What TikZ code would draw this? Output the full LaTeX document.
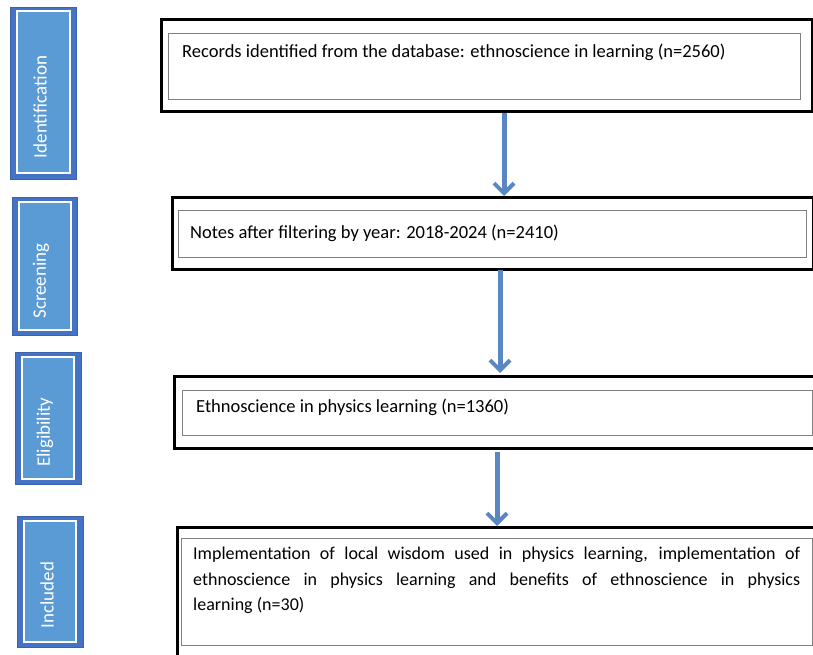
\documentclass[tikz,border=0pt]{standalone}
\usepackage{fontspec}
\setmainfont{Carlito}
\usetikzlibrary{arrows.meta}
\definecolor{sidedark}{HTML}{4472C4}
\definecolor{sideedge}{HTML}{3B64AD}
\definecolor{sidelight}{HTML}{5B9BD5}
\definecolor{arrowblue}{HTML}{5A86C2}
\definecolor{innergray}{HTML}{808080}
\tikzset{
  sideouter/.style={draw=sideedge, fill=sidedark, line width=1pt, inner sep=0pt},
  sideinner/.style={draw=white, fill=sidelight, line width=2pt, inner sep=0pt},
  sidetext/.style={inner sep=0pt, text=white, font=\fontsize{19}{21}\selectfont, rotate=90},
  outerbox/.style={draw=black, line width=3pt, inner sep=0pt},
  innerbox/.style={draw=innergray, line width=1pt, inner sep=0pt},
  boxtext/.style={anchor=west, inner sep=0pt, font=\fontsize{18.5}{22}\selectfont},
  flowarrow/.style={draw=arrowblue, line width=5pt, -{Straight Barb[length=10pt,width=20pt,line width=4pt]}}
}
\begin{document}
\begin{tikzpicture}[x=1pt,y=-1pt]
\useasboundingbox (0,0) rectangle (813,655);
% side labels
\node[sideouter, minimum width=66pt, minimum height=172pt] (idO) at (43,93.5) {};
\node[sideinner, minimum width=53pt, minimum height=162pt] (idI) at (43.5,92.5) {};
\node[sidetext] (idT) at (40,107) {Identification};
\node[sideouter, minimum width=65pt, minimum height=138pt] (scO) at (44.5,266) {};
\node[sideinner, minimum width=52pt, minimum height=128pt] (scI) at (44.5,266) {};
\node[sidetext] (scT) at (41,281) {Screening};
\node[sideouter, minimum width=66pt, minimum height=132pt] (elO) at (48,418) {};
\node[sideinner, minimum width=52pt, minimum height=122pt] (elI) at (48,418) {};
\node[sidetext] (elT) at (45,432) {Eligibility};
\node[sideouter, minimum width=66pt, minimum height=131pt] (inO) at (50,581.5) {};
\node[sideinner, minimum width=52pt, minimum height=121pt] (inI) at (50,581.5) {};
\node[sidetext] (inT) at (47,595) {Included};
% main boxes
\node[outerbox, minimum width=651pt, minimum height=92pt] (b1) at (486.5,66) {};
\node[innerbox, minimum width=632pt, minimum height=66pt] (b1i) at (484,67) {};
\node[boxtext] (t1) at (182,52) {Records identified from the database: ethnoscience in learning (n=2560)};
\node[outerbox, minimum width=641pt, minimum height=72pt] (b2) at (492.5,233) {};
\node[innerbox, minimum width=628pt, minimum height=47pt] (b2i) at (492,233.5) {};
\node[boxtext] (t2) at (190,233) {Notes after filtering by year: 2018-2024 (n=2410)};
\node[outerbox, minimum width=641pt, minimum height=72pt] (b3) at (494.5,412) {};
\node[innerbox, minimum width=630pt, minimum height=45pt] (b3i) at (497,412.5) {};
\node[boxtext] (t3) at (196,407) {Ethnoscience in physics learning (n=1360)};
\node[outerbox, minimum width=640pt, minimum height=132pt] (b4) at (497,593) {};
\node[innerbox, minimum width=631pt, minimum height=107pt] (b4i) at (496.5,591.5) {};
\node[anchor=north west, inner sep=0pt, text width=607pt, align=justify, font=\fontsize{18}{25.5}\selectfont] (t4) at (193,547) {Implementation of local wisdom used in physics learning, implementation of\linebreak ethnoscience in physics learning and benefits of ethnoscience in physics\linebreak learning (n=30)};
% arrows
\coordinate (a1s) at (504,113);
\coordinate (a1e) at (504,196);
\coordinate (a2s) at (500,270);
\coordinate (a2e) at (500,373);
\coordinate (a3s) at (497,452);
\coordinate (a3e) at (497,526);
\draw[flowarrow] (a1s) -- (a1e);
\draw[flowarrow] (a2s) -- (a2e);
\draw[flowarrow] (a3s) -- (a3e);
\end{tikzpicture}
\end{document}
